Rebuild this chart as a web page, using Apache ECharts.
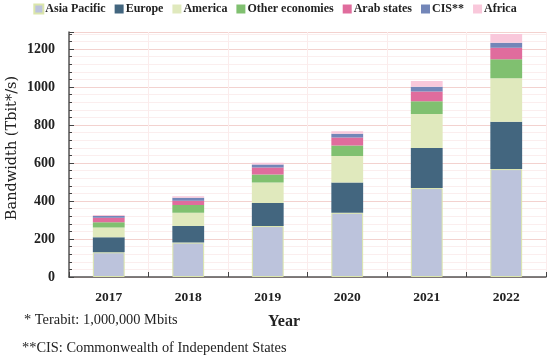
<!DOCTYPE html>
<html><head><meta charset="utf-8">
<script src="https://cdn.jsdelivr.net/npm/echarts@6/dist/echarts.min.js"></script>
<style>html,body{margin:0;padding:0;background:#fff}#c{width:550px;height:360px}</style>
</head><body><div id="c"></div>
<script>
const years = ['2017','2018','2019','2020','2021','2022'];
const seriesNames = ['Asia Pacific','Europe','America','Other economies','Arab states','CIS**','Africa'];
const asiaPacific = [130, 181, 268, 338, 468, 568];
const europe      = [79, 87, 121, 160, 211, 249];
const america     = [51, 70, 109, 139, 179, 230];
const otherEcon   = [28, 41, 42, 56, 68, 100];
const arabStates  = [24, 23, 37, 42, 51, 60];
const cis         = [9, 15, 16, 19, 25, 26];
const africa      = [5, 8, 9, 14, 30, 46];
const yTicks = [0, 200, 400, 600, 800, 1000, 1200];

const colors = ['#bcc3dc','#43667f','#e0e9bd','#80c070','#e06c9d','#7386b8','#f9c8db'];
const values = [asiaPacific, europe, america, otherEcon, arabStates, cis, africa];
const serif = '"Liberation Serif", "DejaVu Serif", serif';

const chart = echarts.init(document.getElementById('c'));
chart.setOption({
  animation: false,
  color: colors,
  textStyle: {fontFamily: serif},
  legend: {
    top: -2, left: 'center',
    itemWidth: 9, itemHeight: 9, itemGap: 9,
    icon: 'rect',
    textStyle: {fontFamily: serif, fontWeight: 'bold', fontSize: 12, color: '#222', padding: [0,0,0,-3]},
    data: seriesNames
  },
  grid: {left: 69, right: 4, top: 32, bottom: 83},
  xAxis: [{
    type: 'category', data: years,
    axisLine: {lineStyle: {color: '#555', width: 1.5}},
    axisTick: {show: true, inside: true, length: 5, lineStyle: {color: '#444'}},
    axisLabel: {fontFamily: serif, fontWeight: 'bold', fontSize: 13.5, color: '#222', margin: 14},
    splitLine: {show: true, interval: 0, lineStyle: {color: '#fbecec', width: 1}}
  },{
    type: 'category', data: years, position: 'bottom',
    axisLine: {show: false},
    axisTick: {show: true, inside: true, alignWithLabel: true, length: 3, lineStyle: {color: '#444'}},
    axisLabel: {show: false},
    splitLine: {show: true, interval: 0, lineStyle: {color: '#fbecec', width: 1}}
  }],
  yAxis: {
    type: 'value', min: 0, max: 1290, interval: 200,
    axisLine: {show: true, lineStyle: {color: '#555', width: 1.5}},
    axisTick: {show: true, inside: true, length: 5, lineStyle: {color: '#444'}},
    minorTick: {show: true, splitNumber: 5, length: 3, lineStyle: {color: '#444'}},
    axisLabel: {fontFamily: serif, fontWeight: 'bold', fontSize: 14, color: '#222', margin: 14, showMaxLabel: false,
      formatter: v => yTicks.indexOf(v) >= 0 ? String(v) : ''},
    splitLine: {show: true, lineStyle: {color: '#f3d2cf', width: 1}},
    minorSplitLine: {show: true, lineStyle: {color: '#fbeeee', width: 1}}
  },
  graphic: [
    {type: 'text', x: 12, y: 148, rotation: Math.PI / 2,
      style: {text: 'Bandwidth (Tbit*/s)', font: '14.5px "DejaVu Serif", serif', fill: '#222', align: 'center', verticalAlign: 'middle'}},
    {type: 'text', x: 284, y: 322,
      style: {text: 'Year', font: 'bold 16px ' + serif, fill: '#222', align: 'center', verticalAlign: 'middle'}},
    {type: 'text', x: 24, y: 320,
      style: {text: '* Terabit: 1,000,000 Mbits', font: '14.4px ' + serif, fill: '#222', verticalAlign: 'middle'}},
    {type: 'text', x: 22, y: 348,
      style: {text: '**CIS: Commonwealth of Independent States', font: '14.4px ' + serif, fill: '#222', verticalAlign: 'middle'}}
  ],
  series: seriesNames.map((n, i) => ({
    name: n, type: 'bar', stack: 'total', barWidth: '40%',
    data: values[i],
    itemStyle: i === 0 ? {borderColor: '#dbe6ab', borderWidth: 1} : {}
  }))
});
</script></body></html>
